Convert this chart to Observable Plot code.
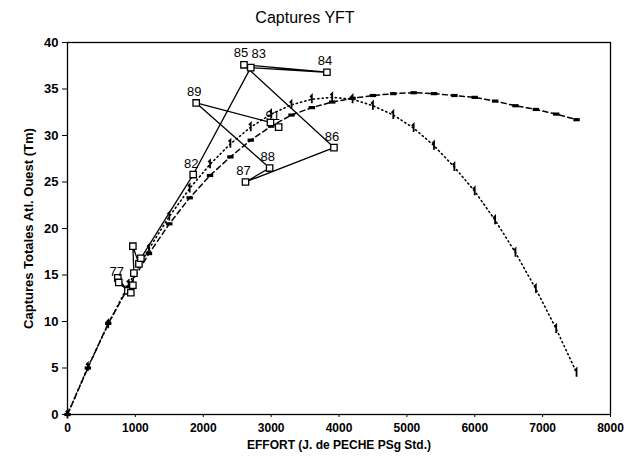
<!DOCTYPE html>
<html>
<head>
<meta charset="utf-8">
<script src="https://cdn.jsdelivr.net/npm/d3@7"></script>
<script src="https://cdn.jsdelivr.net/npm/@observablehq/plot@0.6"></script>
<style>
  body { margin: 0; background: #fff; font-family: "Liberation Sans", Arial, sans-serif; }
  #title { height: 32px; line-height: 36px; text-align: center; font-size: 16px; color: #000; width: 610px; }
</style>
</head>
<body>
<div id="title">Captures YFT</div>
<div id="chart"></div>
<script>
// Model curves (effort grid, step 300 J. de peche)
const effortGrid = [0,300,600,900,1200,1500,1800,2100,2400,2700,3000,3300,3600,3900,4200,4500,4800,5100,5400,5700,6000,6300,6600,6900,7200,7500];
const dottedCatch = [0,5.1,9.7,14.0,17.8,21.3,24.3,26.9,29.1,30.9,32.3,33.3,33.9,34.1,33.9,33.2,32.2,30.8,28.9,26.6,24.0,20.9,17.4,13.5,9.2,4.5];
const dashedCatch = [0,5.0,9.8,13.7,17.3,20.5,23.3,25.7,27.7,29.5,31.0,32.2,33.0,33.6,34.0,34.3,34.5,34.6,34.5,34.3,34.1,33.7,33.2,32.8,32.3,31.7];

// Observed points, chronological order
const obsLabel  = ["", "", "77", "", "", "", "", "", "", "82", "83", "84", "85", "86", "87", "88", "89", "", "91"];
const obsEffort = [741, 889, 755, 933, 963, 978, 963, 1052, 1081, 1852, 2700, 3822, 2600, 3926, 2622, 2978, 1896, 2990, 3111];
const obsCatch  = [14.7, 13.3, 14.2, 13.1, 13.9, 15.2, 18.1, 16.2, 16.8, 25.8, 37.3, 36.8, 37.6, 28.7, 25.0, 26.5, 33.5, 31.4, 30.9];

const xTicks = [0,1000,2000,3000,4000,5000,6000,7000,8000];
const yTicks = [0,5,10,15,20,25,30,35,40];

const dotted = effortGrid.map((e, i) => ({e, c: dottedCatch[i]}));
const dashed = effortGrid.map((e, i) => ({e, c: dashedCatch[i]}));
const obs = obsEffort.map((e, i) => ({e, c: obsCatch[i], label: obsLabel[i]}));

const dashSymbol = { draw(ctx, size) { ctx.rect(-3.2, -1.6, 6.4, 3.2); } };
const oneSymbol = { draw(ctx, size) { ctx.moveTo(-1.8, -2.2); ctx.lineTo(0, -4); ctx.lineTo(0, 4); } };

const xLabel = "EFFORT (J. de PECHE PSg Std.)";
const yLabel = "Captures Totales Atl. Ouest (Tm)";

const chart = Plot.plot({
  width: 637,
  height: 431,
  marginTop: 10,
  marginLeft: 67,
  marginRight: 27,
  marginBottom: 49,
  style: { fontFamily: "Liberation Sans, Arial, sans-serif", fontSize: "12px", color: "#000", background: "#fff" },
  x: { domain: [0, 8000] },
  y: { domain: [0, 40] },
  marks: [
    Plot.frame({ stroke: "#000", strokeWidth: 1.3 }),
    Plot.axisX({ ticks: xTicks, tickFormat: d => String(d), tickSize: 3, fontSize: 12, fontWeight: "bold", label: xLabel, labelAnchor: "center", labelArrow: "none", labelOffset: 34 }),
    Plot.axisY({ ticks: yTicks, tickFormat: d => String(d), tickSize: 5, fontSize: 13, fontWeight: "bold", label: yLabel, labelAnchor: "center", labelArrow: "none", labelOffset: 44 }),
    Plot.line(dotted, { x: "e", y: "c", stroke: "#000", strokeWidth: 1.6, strokeDasharray: "1.2,3.2", strokeLinecap: "round" }),
    Plot.dot(dotted, { x: "e", y: "c", symbol: oneSymbol, fill: "none", stroke: "#000", strokeWidth: 1.8, r: 3 }),
    Plot.line(dashed, { x: "e", y: "c", stroke: "#000", strokeWidth: 1.5, strokeDasharray: "5,3.5" }),
    Plot.dot(dashed, { x: "e", y: "c", symbol: dashSymbol, fill: "#000", stroke: "none", r: 3 }),
    Plot.line(obs, { x: "e", y: "c", stroke: "#000", strokeWidth: 1.3 }),
    Plot.dot(obs, { x: "e", y: "c", symbol: "square", r: 3.6, fill: "#fff", stroke: "#000", strokeWidth: 1.3 }),
    Plot.text(obs, { filter: d => d.label !== "85" && d.label !== "83" && d.label !== "91", x: "e", y: "c", text: "label", dy: -11, dx: -2, fontSize: 13, fill: "#000", letterSpacing: 1 }),
    Plot.text(obs, { filter: d => d.label === "85", x: "e", y: "c", text: "label", dy: -12, dx: -3, fontSize: 13, fill: "#000", letterSpacing: 1 }),
    Plot.text(obs, { filter: d => d.label === "83", x: "e", y: "c", text: "label", dy: -14, dx: 8, fontSize: 13, fill: "#000", letterSpacing: 1 }),
    Plot.text(obs, { filter: d => d.label === "91", x: "e", y: "c", text: "label", dy: -11, dx: -6, fontSize: 13, fill: "#000", letterSpacing: 1 })
  ]
});
document.getElementById("chart").appendChild(chart);
</script>
</body>
</html>
